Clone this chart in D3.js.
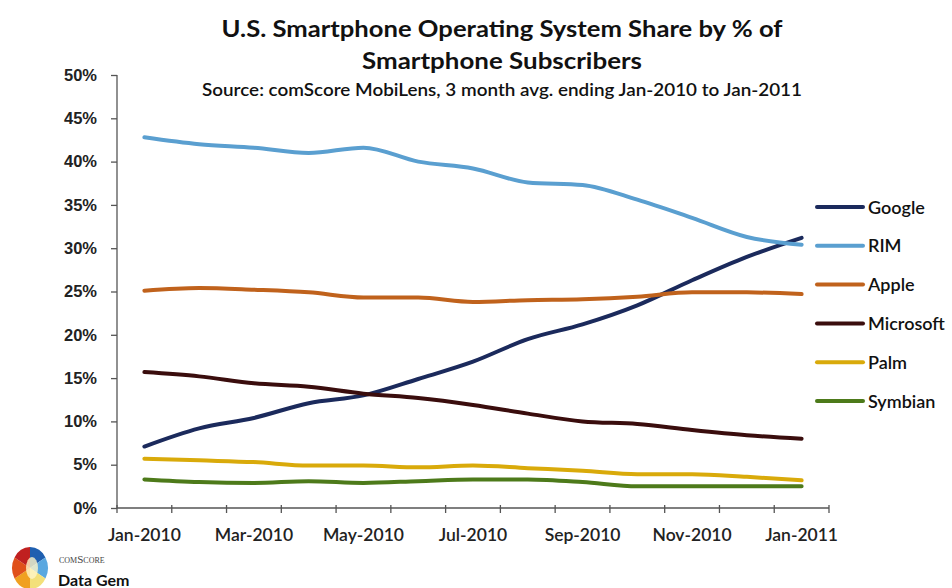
<!DOCTYPE html>
<html>
<head>
<meta charset="utf-8">
<script src="https://cdn.jsdelivr.net/npm/d3@7"></script>
<style>
  body { margin: 0; background: #fff; }
  svg { font-family: "Lato", "Open Sans", sans-serif; }
  .axis path, .axis line { stroke: #555; stroke-width: 1.3; }
  .axis text { font-size: 16.5px; fill: #222; font-weight: 600; }
</style>
</head>
<body>
<svg width="952" height="588"></svg>
<script>
// Monate (Kategorien)
let months = ["Jan-2010", "Feb-2010", "Mar-2010", "Apr-2010", "May-2010", "Jun-2010",
  "Jul-2010", "Aug-2010", "Sep-2010", "Oct-2010", "Nov-2010", "Dec-2010", "Jan-2011"];

// Anteile in %
let google    = [7.1, 9.2, 10.4, 12.1, 13.0, 14.9, 16.9, 19.5, 21.2, 23.4, 26.3, 29.0, 31.2];
let rim       = [42.8, 42.0, 41.6, 41.0, 41.6, 40.0, 39.2, 37.6, 37.3, 35.6, 33.5, 31.3, 30.4];
let apple     = [25.1, 25.4, 25.2, 24.9, 24.3, 24.3, 23.8, 24.0, 24.1, 24.4, 24.9, 24.9, 24.7];
let microsoft = [15.7, 15.2, 14.4, 14.0, 13.2, 12.7, 11.9, 10.9, 10.0, 9.7, 9.0, 8.4, 8.0];
let palm      = [5.7, 5.5, 5.3, 4.9, 4.9, 4.7, 4.9, 4.6, 4.3, 3.9, 3.9, 3.6, 3.2];
let symbian   = [3.3, 3.0, 2.9, 3.1, 2.9, 3.1, 3.3, 3.3, 3.0, 2.5, 2.5, 2.5, 2.5];

let yTicks = [0, 5, 10, 15, 20, 25, 30, 35, 40, 45, 50];
let xLabels = ["Jan-2010", "Mar-2010", "May-2010", "Jul-2010", "Sep-2010", "Nov-2010", "Jan-2011"];

let series = [
  { name: "Google", values: google, color: "#1b2a5c" },
  { name: "RIM", values: rim, color: "#5a9fd0" },
  { name: "Apple", values: apple, color: "#c0621c" },
  { name: "Microsoft", values: microsoft, color: "#3a0d0d" },
  { name: "Palm", values: palm, color: "#d9aa0a" },
  { name: "Symbian", values: symbian, color: "#4d7a1a" }
];

let svg = d3.select("svg");
let plotLeft = 117, plotRight = 829, plotTop = 75, plotBottom = 508;

let xScale = d3.scaleBand().domain(months).range([plotLeft, plotRight]);
let yScale = d3.scaleLinear().domain([0, 50]).range([plotBottom, plotTop]);

// Titel
svg.append("text").attr("x", 502).attr("y", 37).attr("text-anchor", "middle")
  .attr("textLength", 561).attr("lengthAdjust", "spacingAndGlyphs")
  .style("font-size", "23px").style("font-weight", "bold").attr("fill", "#111")
  .text("U.S. Smartphone Operating System Share by % of");
svg.append("text").attr("x", 502).attr("y", 69).attr("text-anchor", "middle")
  .attr("textLength", 280).attr("lengthAdjust", "spacingAndGlyphs")
  .style("font-size", "23px").style("font-weight", "bold").attr("fill", "#111")
  .text("Smartphone Subscribers");
svg.append("text").attr("x", 502).attr("y", 96).attr("text-anchor", "middle")
  .attr("textLength", 600).attr("lengthAdjust", "spacingAndGlyphs")
  .style("font-size", "17px").style("font-weight", "600").attr("fill", "#111")
  .text("Source: comScore MobiLens, 3 month avg. ending Jan-2010 to Jan-2011");

// Y-Achse
let yAxis = d3.axisLeft(yScale).tickValues(yTicks).tickSize(6).tickPadding(14)
  .tickFormat(d => d + "%");
svg.append("g").attr("class", "axis").attr("transform", `translate(${plotLeft},0)`).call(yAxis)
  .call(g => g.select(".domain").attr("d", `M0,${plotTop}V${plotBottom}`));

// X-Achse mit Ticks an den Bandgrenzen
let xAxisG = svg.append("g").attr("class", "axis").attr("transform", `translate(0,${plotBottom})`);
xAxisG.append("line").attr("x1", plotLeft).attr("x2", plotRight).attr("stroke", "#555").attr("stroke-width", 1.3);
let bounds = months.map(m => xScale(m)).concat([plotRight]);
xAxisG.selectAll(".tk").data(bounds).enter().append("line")
  .attr("x1", d => d).attr("x2", d => d).attr("y1", -3).attr("y2", 5)
  .attr("stroke", "#555").attr("stroke-width", 1.3);
xAxisG.selectAll(".lbl").data(xLabels).enter().append("text")
  .attr("x", d => xScale(d) + xScale.bandwidth() / 2).attr("y", 33)
  .attr("text-anchor", "middle").style("font-size", "17.5px").text(d => d);

// Linien
let line = d3.line()
  .x((d, i) => xScale(months[i]) + xScale.bandwidth() / 2)
  .y(d => yScale(d))
  .curve(d3.curveMonotoneX);

svg.selectAll(".lang").data(series).enter().append("path")
  .attr("class", "lang")
  .attr("d", d => line(d.values))
  .attr("fill", "none")
  .attr("stroke", d => d.color)
  .attr("stroke-width", 4)
  .attr("stroke-linecap", "round");

// Legende
let legend = svg.selectAll(".leg").data(series).enter().append("g")
  .attr("transform", (d, i) => `translate(817,${207 + i * 38.8})`);
legend.append("line").attr("x1", 0).attr("x2", 46)
  .attr("stroke", d => d.color).attr("stroke-width", 4).attr("stroke-linecap", "round");
legend.append("text").attr("x", 51).attr("y", 6.5)
  .style("font-size", "18px").style("font-weight", "600").attr("fill", "#111")
  .text(d => d.name);

// comScore Logo
let logo = svg.append("g").attr("transform", "translate(30,568)");
let logoColors = ["#1f5fb0", "#5aa8e0", "#f3e07a", "#f0a020", "#e0501a", "#c02020"];
let arc = d3.arc().innerRadius(0).outerRadius(21);
let pie = d3.pie().sort(null).value(1);
logo.selectAll("path").data(pie(logoColors)).enter().append("path")
  .attr("d", arc).attr("fill", d => d.data).attr("transform", "scale(0.85,1)");
logo.append("ellipse").attr("rx", 6).attr("ry", 11).attr("cx", 2).attr("fill", "#fff5c8").attr("opacity", 0.8);
svg.append("text").attr("x", 59).attr("y", 563).style("font-family", "Liberation Serif, serif")
  .style("font-variant", "small-caps").style("font-size", "11px").attr("fill", "#444")
  .text("comScore");
svg.append("text").attr("x", 58).attr("y", 586).style("font-size", "16px")
  .style("font-weight", "bold").attr("fill", "#111").text("Data Gem");
</script>
</body>
</html>
